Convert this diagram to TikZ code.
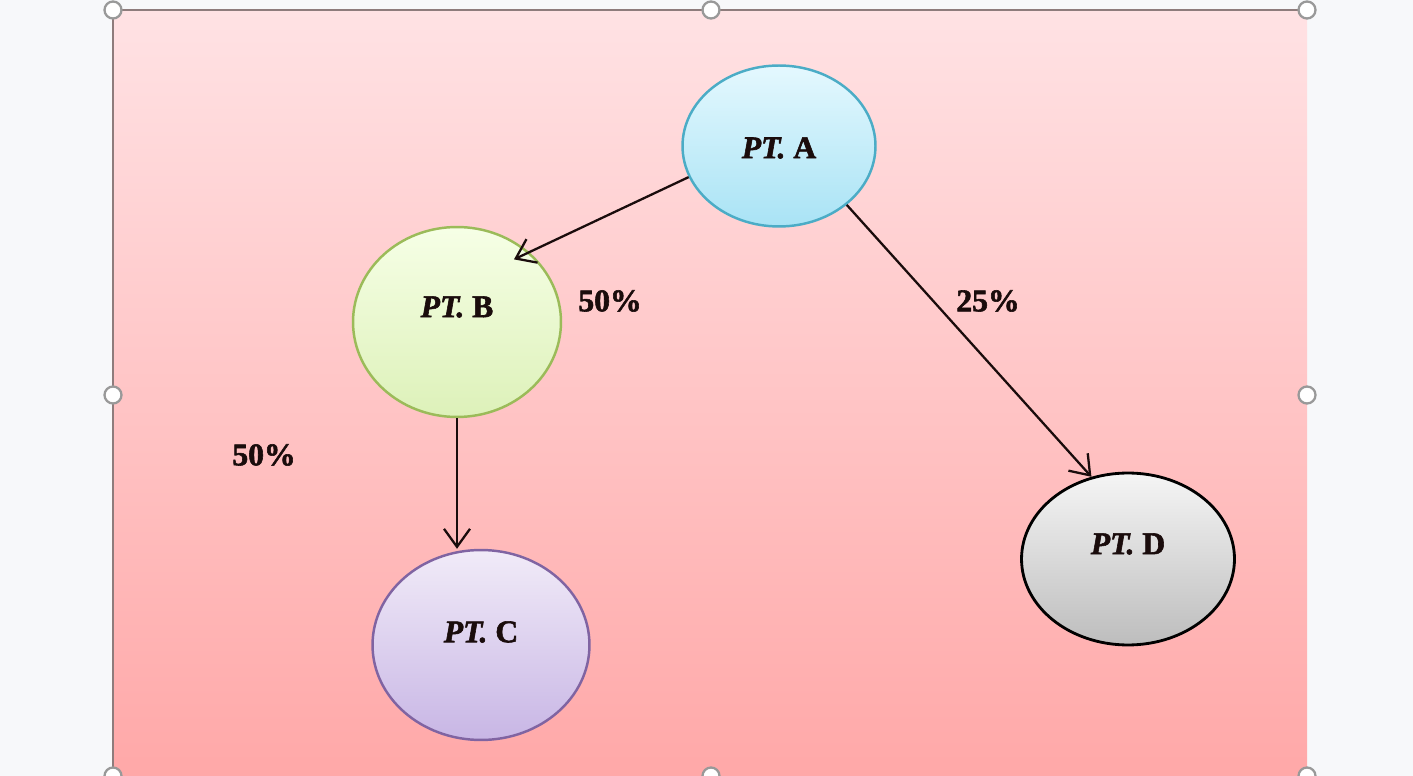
\documentclass[tikz,border=0pt]{standalone}
\usepackage{fontspec}
\setmainfont{Liberation Serif}[BoldFeatures={FakeBold=1.8}, BoldItalicFeatures={FakeBold=1.8}]
\usepackage{tikz}
\usetikzlibrary{arrows.meta, shapes.geometric}
\definecolor{cpage}{HTML}{F7F8FA}
\definecolor{cpinktop}{HTML}{FFE2E4}
\definecolor{cpinkbot}{HTML}{FFA8A8}
\definecolor{cframe}{HTML}{8E7C7C}
\definecolor{catop}{HTML}{E4F8FE}
\definecolor{cabot}{HTML}{A9E3F5}
\definecolor{caline}{HTML}{4BACC6}
\definecolor{cbtop}{HTML}{F6FFE6}
\definecolor{cbbot}{HTML}{DDF1B9}
\definecolor{cbline}{HTML}{9BBB59}
\definecolor{cctop}{HTML}{F1EBF8}
\definecolor{ccbot}{HTML}{C8B6E5}
\definecolor{ccline}{HTML}{8064A2}
\definecolor{cdtop}{HTML}{F5F5F5}
\definecolor{cdbot}{HTML}{BDBDBD}
\definecolor{ctext}{HTML}{1A0C0C}
\newcommand{\ptname}[2]{\raisebox{#2}[\height][\depth]{\textbf{\textit{PT.}\ #1}}}
\tikzset{
  pt/.style={ellipse, draw, line width=1.4pt, text=ctext, inner sep=0pt,
             font=\fontsize{18}{20}\selectfont},
  pct/.style={text=ctext, font=\bfseries\fontsize{18}{20}\selectfont, inner sep=0pt},
  fl/.style={-{Straight Barb[length=3.6mm, width=5.2mm]}, line width=1.3pt, draw=ctext},
  handle/.style={draw=gray!80, fill=white, line width=1.3pt},
}
\begin{document}
\begin{tikzpicture}[x=0.02cm, y=-0.02cm]
  \useasboundingbox (0,0) rectangle (1413,776);
  % slide area
  \fill[cpage] (0,0) rectangle (1413,776);
  \shade[top color=cpinktop, bottom color=cpinkbot] (113,10) rectangle (1307,776);
  \draw[cframe, line width=1.2pt] (113,776) -- (113,10) -- (1307,10);

  % points
  \node[pt, minimum width=3.86cm, minimum height=3.22cm, draw=caline,
        top color=catop, bottom color=cabot] (A) at (779,146) {\ptname{A}{-0.04cm}};
  \node[pt, minimum width=4.16cm, minimum height=3.8cm, draw=cbline,
        top color=cbtop, bottom color=cbbot] (B) at (457,322) {\ptname{B}{0.3cm}};
  \node[pt, minimum width=4.34cm, minimum height=3.8cm, draw=ccline,
        top color=cctop, bottom color=ccbot] (C) at (481,645) {\ptname{C}{0.26cm}};
  \node[pt, minimum width=4.26cm, minimum height=3.44cm, draw=black,
        line width=1.6pt, top color=cdtop, bottom color=cdbot] (D) at (1128,559) {\ptname{D}{0.3cm}};

  % shares
  \node[pct] (pab) at (610,301) {50\%};
  \node[pct] (pad) at (988,301) {25\%};
  \node[pct] (pbc) at (264,455) {50\%};

  \draw[fl, shorten >=-3.4mm] (A.199) -- (B.44);
  \draw[fl] (A.-41) -- (D.114);
  \draw[fl] (B.south) -- (B.south |- C.north);

  % selection handles
  \foreach \hx/\hy in {113/10, 711/10, 1307/10, 113/395, 1307/395, 113/776, 711/776, 1307/776}
    \draw[handle] (\hx,\hy) circle[radius=8.5];
\end{tikzpicture}
\end{document}
